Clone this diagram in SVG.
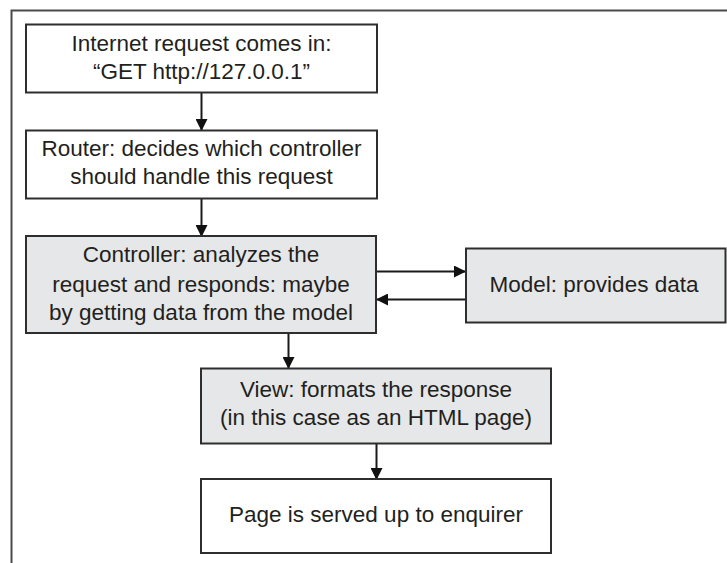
<svg xmlns="http://www.w3.org/2000/svg" width="727" height="563" viewBox="0 0 727 563">
<defs>
<marker id="ah" markerUnits="userSpaceOnUse" markerWidth="12" markerHeight="12" viewBox="0 0 12 12" refX="11" refY="6" orient="auto">
<path d="M0,0 L12,6 L0,12 Z" fill="#111"/>
</marker>
<style>
.box{stroke:#2e2e2e;stroke-width:2}
.w{fill:#ffffff}
.g{fill:#e6e7e8}
.t{font-family:"Liberation Sans",Arial,sans-serif;font-size:22.5px;fill:#231f20;text-anchor:middle}
.c{stroke:#1a1a1a;stroke-width:2;fill:none;marker-end:url(#ah)}
</style>
</defs>
<rect width="727" height="563" fill="#ffffff"/>
<path d="M11.5,563 V10.5 H727" fill="none" stroke="#4a4a4a" stroke-width="2"/>
<g id="connectors">
<line class="c" x1="201.5" y1="93" x2="201.5" y2="130"/>
<line class="c" x1="201.5" y1="199" x2="201.5" y2="236"/>
<line class="c" x1="377" y1="271.5" x2="465" y2="271.5"/>
<line class="c" x1="466" y1="299.5" x2="377" y2="299.5"/>
<line class="c" x1="288.5" y1="333" x2="288.5" y2="368"/>
<line class="c" x1="376.5" y1="443.5" x2="376.5" y2="479"/>
</g>
<g id="internet">
<rect class="box w" x="26" y="24.5" width="351" height="68"/>
<text class="t" x="201.5" y="50.5">Internet request comes in:</text>
<text class="t" x="201.5" y="79">“GET http://127.0.0.1”</text>
</g>
<g id="router">
<rect class="box w" x="26" y="130.5" width="351" height="68"/>
<text class="t" x="201.5" y="155.5">Router: decides which controller</text>
<text class="t" x="201.5" y="184">should handle this request</text>
</g>
<g id="controller">
<rect class="box g" x="26" y="236" width="350" height="97"/>
<text class="t" x="201" y="262">Controller: analyzes the</text>
<text class="t" x="201" y="291.5">request and responds: maybe</text>
<text class="t" x="201" y="320">by getting data from the model</text>
</g>
<g id="model">
<rect class="box g" x="466" y="248.5" width="259.5" height="74"/>
<text class="t" x="594" y="292">Model: provides data</text>
</g>
<g id="view">
<rect class="box g" x="201" y="368.5" width="350" height="75"/>
<text class="t" x="376" y="397">View: formats the response</text>
<text class="t" x="376" y="425">(in this case as an HTML page)</text>
</g>
<g id="page">
<rect class="box w" x="201" y="479" width="350" height="74"/>
<text class="t" x="376" y="521.5">Page is served up to enquirer</text>
</g>
</svg>
